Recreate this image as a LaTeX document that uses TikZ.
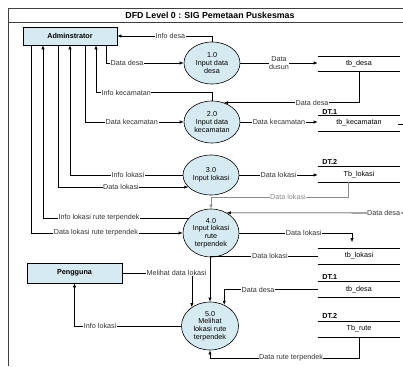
\documentclass[tikz,border=0pt]{standalone}
\usepackage{fontspec}
\setmainfont{Liberation Sans}
\usepackage{tikz}
\usetikzlibrary{shapes.geometric}
\usetikzlibrary{arrows.meta}
\definecolor{dfd_isi}{HTML}{D5EBF1}
\definecolor{dfd_abu}{HTML}{8C8C8C}

\tikzset{
  entitas/.style={draw, fill=dfd_isi, minimum width=94pt, minimum height=18pt, inner sep=0pt, font=\fontsize{7.2}{8}\selectfont\bfseries},
  proses/.style={ellipse, draw, fill=dfd_isi, minimum width=56pt, inner sep=0pt, align=center, font=\fontsize{7.2}{7.8}\selectfont},
  gudang/.style={minimum width=82pt, minimum height=15pt, inner sep=0pt, font=\fontsize{7.2}{8}\selectfont},
  dt/.style={anchor=west, inner sep=0pt, font=\fontsize{7.2}{8}\selectfont\bfseries},
  alir/.style={-{Latex[length=4pt,width=3.2pt]}},
  ket/.style={fill=white, inner sep=0.6pt, font=\fontsize{7.2}{7.8}\selectfont, text=black!80}
}

\begin{document}
\begin{tikzpicture}[x=1pt, y=-1pt, line width=0.6pt]
    \useasboundingbox (0,0) rectangle (403,366);

    % bingkai dan judul
    \draw[black!75] (8,366) -- (8,8) -- (403,8) (8,22) -- (403,22);
    \node[font=\fontsize{8.8}{10}\selectfont\bfseries] (judul) at (210,15) {DFD Level 0 : SIG Pemetaan Puskesmas};

    % entitas luar
    \node[entitas] (admin) at (70,36) {Adminstrator};
    \node[entitas, minimum width=95pt, minimum height=20pt] (pengguna) at (74.5,273) {Pengguna};

    % proses
    \node[proses, minimum height=42pt] (p1) at (212,63) {1.0\\Input data\\desa};
    \node[proses, minimum height=42pt] (p2) at (212,122) {2.0\\Input data\\kecamatan};
    \node[proses, minimum height=40pt] (p3) at (211,175) {3.0\\Input lokasi};
    \node[proses, minimum height=48pt] (p4) at (211,233) {4.0\\Input lokasi\\rute\\terpendek};
    \node[proses, minimum width=57pt, minimum height=48pt] (p5) at (210,326) {5.0\\Melihat\\lokasi rute\\terpendek};

    % data store
    \node[gudang] (s1) at (359,64) {tb\_desa};
    \node[gudang] (s2) at (359,123) {tb\_kecamatan};
    \node[gudang] (s3) at (359,174.5) {Tb\_lokasi};
    \node[gudang] (s4) at (359,256) {tb\_lokasi};
    \node[gudang] (s5) at (359,289.5) {tb\_desa};
    \node[gudang] (s6) at (359,329) {Tb\_rute};
    \foreach \s in {1,...,6}
        \draw (s\s.north west) -- (s\s.north east) (s\s.south west) -- (s\s.south east);
    \draw ([xshift=-2pt,yshift=-1.5pt]s2.east) -- ++(5,0);

    \node[dt] (dt1a) at (322,112) {DT.1};
    \node[dt] (dt2a) at (322,162) {DT.2};
    \node[dt] (dt1b) at (322,277) {DT.1};
    \node[dt] (dt2b) at (322,316) {DT.2};

    % 1.0
    \draw[alir] (p1.north) |- (admin.east) node[ket,pos=0.72]{Info desa};
    \draw[alir] ([xshift=36pt]admin.south) |- (p1.west) node[ket,pos=0.635]{Data desa};
    \draw[alir] (p1.east) -- (p1.east -| s1.west) node[ket,pos=0.5,align=center]{Data\\dusun};

    % 2.0
    \draw[alir] (p2.north) -- ++(0,-8) -| ([xshift=26pt]admin.south) node[ket,pos=0.37]{Info kecamatan};
    \draw[alir] (s1.south) |- (p2.58) node[ket,pos=0.674]{Data desa};
    \draw[alir] ([xshift=15pt]admin.south) |- (p2.west) node[ket,pos=0.737]{Data kecamatan};
    \draw[alir] (p2.east) -- (p2.east -| s2.west) node[ket,pos=0.5]{Data kecamatan};

    % 3.0
    \draw[alir] (p3.west) -| (admin.south) node[ket,pos=0.243]{Info lokasi};
    \draw[alir] ([xshift=-12pt]admin.south) |- (p3.208) node[ket,pos=0.742]{Data lokasi};
    \draw[alir] (p3.east) -- (p3.east -| s3.west) node[ket,pos=0.5]{Data lokasi};

    % 4.0
    \coordinate (tepi) at (403,213);
    \draw[alir,dfd_abu] ([xshift=-11pt]s3.south) -- ++(0,15) -| (p4.north) node[ket,pos=0.219,text=dfd_abu]{Data lokasi};
    \draw[alir] (tepi) -- (p4.52) node[ket,pos=0.11]{Data desa};
    \draw[alir] (p4.146) -| ([xshift=-27pt]admin.south) node[ket,pos=0.308]{Info lokasi rute terpendek};
    \draw[alir] ([xshift=-39pt]admin.south) |- (p4.west) node[ket,pos=0.714]{Data lokasi rute terpendek};
    \draw[alir,shorten >=6pt] (p4.east) -| ([xshift=-7pt]s4.north) node[ket,pos=0.286]{Data lokasi};

    % 5.0
    \draw[alir] (s4.west) -| (p5.north) node[ket,pos=0.222]{Data lokasi};
    \draw[alir] (s5.west) -| (p5.56) node[ket,pos=0.319]{Data desa};
    \draw[alir] (pengguna.east) -| (p5.134) node[ket,pos=0.39]{Melihat data lokasi};
    \draw[alir] (p5.west) -| (pengguna.south) node[ket,pos=0.38]{Info lokasi};
    \draw[alir] (s6.south) -- ++(0,21) -| (p5.south) node[ket,pos=0.228]{Data rute terpendek};

\end{tikzpicture}
\end{document}
